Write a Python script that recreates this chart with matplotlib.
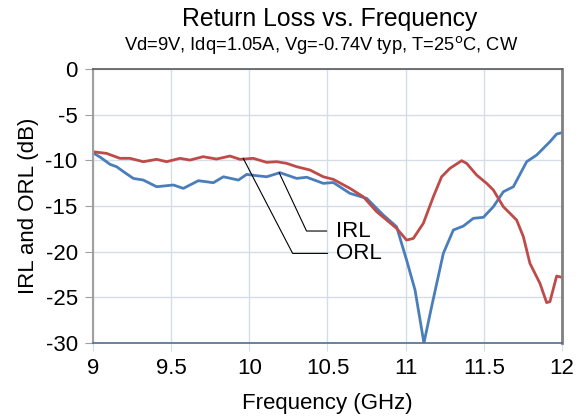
import matplotlib
matplotlib.use('Agg')
import matplotlib.pyplot as plt

plt.rcParams['font.family'] = ['Liberation Sans', 'DejaVu Sans']
plt.rcParams['axes.unicode_minus'] = False

irl_freq = [9.0, 9.05, 9.109, 9.151, 9.2, 9.258, 9.322, 9.407, 9.514, 9.578, 9.674, 9.77,
            9.834, 9.93, 9.983, 10.047, 10.111, 10.196, 10.303, 10.367, 10.473, 10.537,
            10.644, 10.751, 10.857, 10.942, 11.006, 11.06, 11.117, 11.166, 11.241, 11.305,
            11.369, 11.433, 11.497, 11.561, 11.625, 11.689, 11.774, 11.838, 11.923, 11.966, 12.0]
irl_db = [-9.17, -9.7, -10.44, -10.7, -11.3, -11.98, -12.16, -12.89, -12.7, -13.07, -12.23, -12.45,
          -11.8, -12.16, -11.54, -11.68, -11.8, -11.35, -11.98, -11.85, -12.52, -12.43,
          -13.62, -14.17, -15.99, -17.27, -20.92, -24.2, -30.0, -26.03, -20.19, -17.63,
          -17.2, -16.35, -16.24, -15.08, -13.44, -12.89, -10.15, -9.42, -7.96, -7.12, -6.97]

orl_freq = [9.0, 9.087, 9.172, 9.236, 9.322, 9.407, 9.471, 9.556, 9.62, 9.705, 9.79, 9.876,
            9.94, 10.025, 10.111, 10.175, 10.239, 10.303, 10.388, 10.473, 10.537, 10.644,
            10.729, 10.815, 10.879, 10.942, 11.006, 11.049, 11.113, 11.177, 11.23, 11.283,
            11.358, 11.39, 11.454, 11.518, 11.561, 11.625, 11.71, 11.753, 11.795, 11.859,
            11.902, 11.923, 11.966, 12.0]
orl_db = [-9.06, -9.24, -9.78, -9.78, -10.15, -9.89, -10.15, -9.78, -9.97, -9.6, -9.86, -9.53,
          -9.89, -9.78, -10.22, -10.15, -10.33, -10.7, -11.06, -11.8, -12.08, -13.07,
          -13.99, -15.63, -16.54, -17.45, -18.73, -18.55, -16.9, -13.99, -11.8, -10.88,
          -10.04, -10.33, -11.61, -12.52, -13.25, -15.08, -16.54, -18.36, -21.28, -23.47,
          -25.58, -25.47, -22.67, -22.82]

x_ticks = [9, 9.5, 10, 10.5, 11, 11.5, 12]
x_tick_labels = ['9', '9.5', '10', '10.5', '11', '11.5', '12']
y_ticks = [0, -5, -10, -15, -20, -25, -30]

fig = plt.figure(figsize=(5.82, 4.17), dpi=100)
ax = fig.add_axes([0.1598, 0.1775, 0.9656 - 0.1598, 0.8345 - 0.1775])

ax.plot(irl_freq, irl_db, color='#4a7ebb', linewidth=2, solid_joinstyle='round')
ax.plot(orl_freq, orl_db, color='#be4b48', linewidth=2, solid_joinstyle='round')

ax.set_xlim(9, 12)
ax.set_ylim(-30, 0)
ax.set_xticks(x_ticks)
ax.set_xticklabels(x_tick_labels)
ax.set_yticks(y_ticks)
ax.grid(True, color='#d5dde8', linewidth=1)
ax.set_axisbelow(True)

ax.spines['top'].set_color('#595959')
ax.spines['top'].set_linewidth(1.2)
ax.spines['left'].set_color('#a0a0a0')
ax.spines['left'].set_linewidth(1.5)
ax.spines['right'].set_color('#808080')
ax.spines['right'].set_linewidth(2)
ax.spines['bottom'].set_color('#4f6d8f')
ax.spines['bottom'].set_linewidth(1.2)

ax.tick_params(axis='y', direction='out', length=6, color='#a0a0a0', labelsize=16, pad=5)
ax.tick_params(axis='x', direction='out', length=6, color='#d5dde8', labelsize=16, pad=5)

ax.set_xlabel('Frequency (GHz)', fontsize=16, labelpad=10)
ax.set_ylabel('IRL and ORL (dB)', fontsize=16, labelpad=5)

fig.text(0.567, 0.955, 'Return Loss vs. Frequency', ha='center', va='center', fontsize=17.8)
fig.text(0.552, 0.893, 'Vd=9V, Idq=1.05A, Vg=-0.74V typ, T=25$^{\\rm o}$C, CW',
         ha='center', va='center', fontsize=13.2)

# leader lines for labels
ax.plot([10.191, 10.366, 10.494], [-11.36, -17.74, -17.74], color='black', linewidth=0.8)
ax.plot([9.961, 10.277, 10.5], [-9.78, -20.19, -20.19], color='black', linewidth=0.8)
ax.text(10.554, -17.74, 'IRL', fontsize=16, va='center', ha='left')
ax.text(10.554, -20.19, 'ORL', fontsize=16, va='center', ha='left')

fig.savefig('out.png', dpi=100)
